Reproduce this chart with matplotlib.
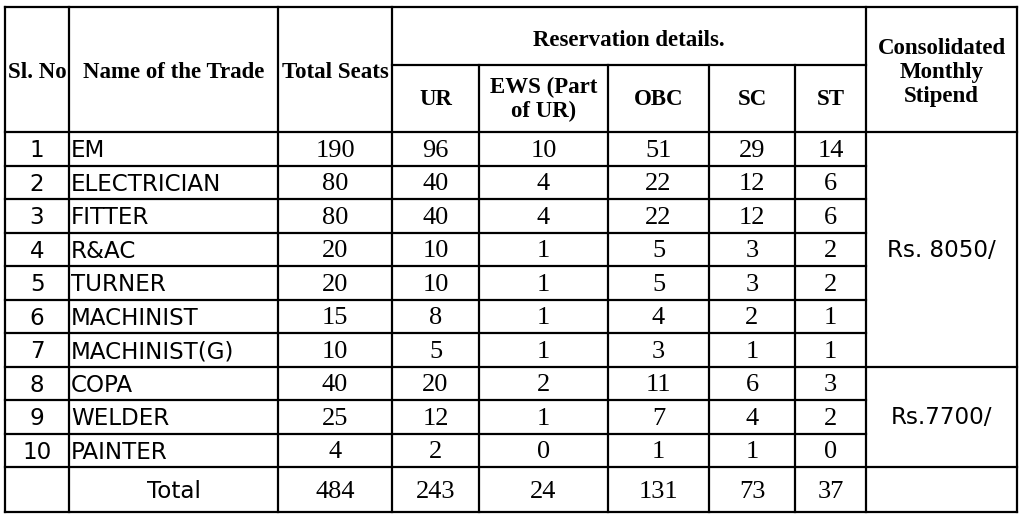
import matplotlib.pyplot as plt

sl_no = [1, 2, 3, 4, 5, 6, 7, 8, 9, 10]
trades = ["EM", "ELECTRICIAN", "FITTER", "R&AC", "TURNER", "MACHINIST",
          "MACHINIST(G)", "COPA", "WELDER", "PAINTER"]
total_seats = [190, 80, 80, 20, 20, 15, 10, 40, 25, 4]
ur = [96, 40, 40, 10, 10, 8, 5, 20, 12, 2]
ews = [10, 4, 4, 1, 1, 1, 1, 2, 1, 0]
obc = [51, 22, 22, 5, 5, 4, 3, 11, 7, 1]
sc = [29, 12, 12, 3, 3, 2, 1, 6, 4, 1]
st = [14, 6, 6, 2, 2, 1, 1, 3, 2, 0]
totals = [484, 243, 24, 131, 73, 37]
stipends = ["Rs. 8050/", "Rs.7700/"]
stipend_rows = [7, 3]

# layout (pixel grid of the page)
xs = [5, 69, 278, 392, 479, 608, 709, 795, 866, 1017]
y_top, y_sub, y_head = 7, 65, 132
row_h = 33.5
y_bot = 512
rows_y = [y_head + row_h * i for i in range(len(trades) + 1)]

serif = "Liberation Serif"
sans = "DejaVu Sans"
lw = 1.6

fig = plt.figure(figsize=(10.24, 5.18), dpi=100)
ax = fig.add_axes([0, 0, 1, 1])
ax.set_xlim(0, 1024)
ax.set_ylim(518, 0)
ax.axis("off")

def hline(y, x0, x1):
    ax.plot([x0, x1], [y, y], color="black", lw=lw, solid_capstyle="projecting")

def vline(x, y0, y1):
    ax.plot([x, x], [y0, y1], color="black", lw=lw, solid_capstyle="projecting")

# outer + header lines
hline(y_top, xs[0], xs[-1])
hline(y_sub, xs[3], xs[8])
hline(y_head, xs[0], xs[-1])
hline(y_bot, xs[0], xs[-1])
for i, y in enumerate(rows_y[1:], start=1):
    end = xs[-1] if i in (7, 10) else xs[8]
    hline(y, xs[0], end)
for i, x in enumerate(xs):
    if 4 <= i <= 7:
        vline(x, y_sub, y_bot)
    else:
        vline(x, y_top, y_bot)

def cx(i):
    return (xs[i] + xs[i + 1]) / 2

hy = (y_top + y_head) / 2 + 3
hb = dict(fontfamily=serif, fontweight="bold", fontsize=16.5, ha="center", va="center")
ax.text(cx(0), hy, "Sl. No", **hb)
ax.text(cx(1), hy, "Name of the Trade", **hb)
ax.text(cx(2), hy, "Total Seats", **hb)
ax.text((xs[3] + xs[8]) / 2, (y_top + y_sub) / 2 + 5, "Reservation details.", **hb)
sub_heads = ["UR", "EWS (Part\nof UR)", "OBC", "SC", "ST"]
for k, t in enumerate(sub_heads):
    ax.text(cx(3 + k), (y_sub + y_head) / 2 + 1, t, linespacing=1.2, **hb)
ax.text(cx(8), hy, "Consolidated\nMonthly\nStipend", linespacing=1.2, **hb)

num = dict(fontfamily=serif, fontsize=19, ha="center", va="center")
txt = dict(fontfamily=sans, fontsize=16.6, va="center")
cols = [total_seats, ur, ews, obc, sc, st]
for r in range(len(trades)):
    y = rows_y[r] + row_h / 2 + 2
    ax.text(cx(0), y, str(sl_no[r]), ha="center", **txt)
    ax.text(xs[1] + 2, y, trades[r], ha="left", **txt)
    for c, vals in enumerate(cols):
        ax.text(cx(2 + c), y, str(vals[r]), **num)

ty = (rows_y[-1] + y_bot) / 2 + 2
ax.text((xs[1] + xs[2]) / 2, ty, "Total", ha="center", **txt)
for c, v in enumerate(totals):
    ax.text(cx(2 + c), ty, str(v), **num)

start = 0
for label, n in zip(stipends, stipend_rows):
    ax.text(cx(8), (rows_y[start] + rows_y[start + n]) / 2 + 1, label, ha="center", **txt)
    start += n

fig.savefig("out.png", dpi=100, facecolor="white")
